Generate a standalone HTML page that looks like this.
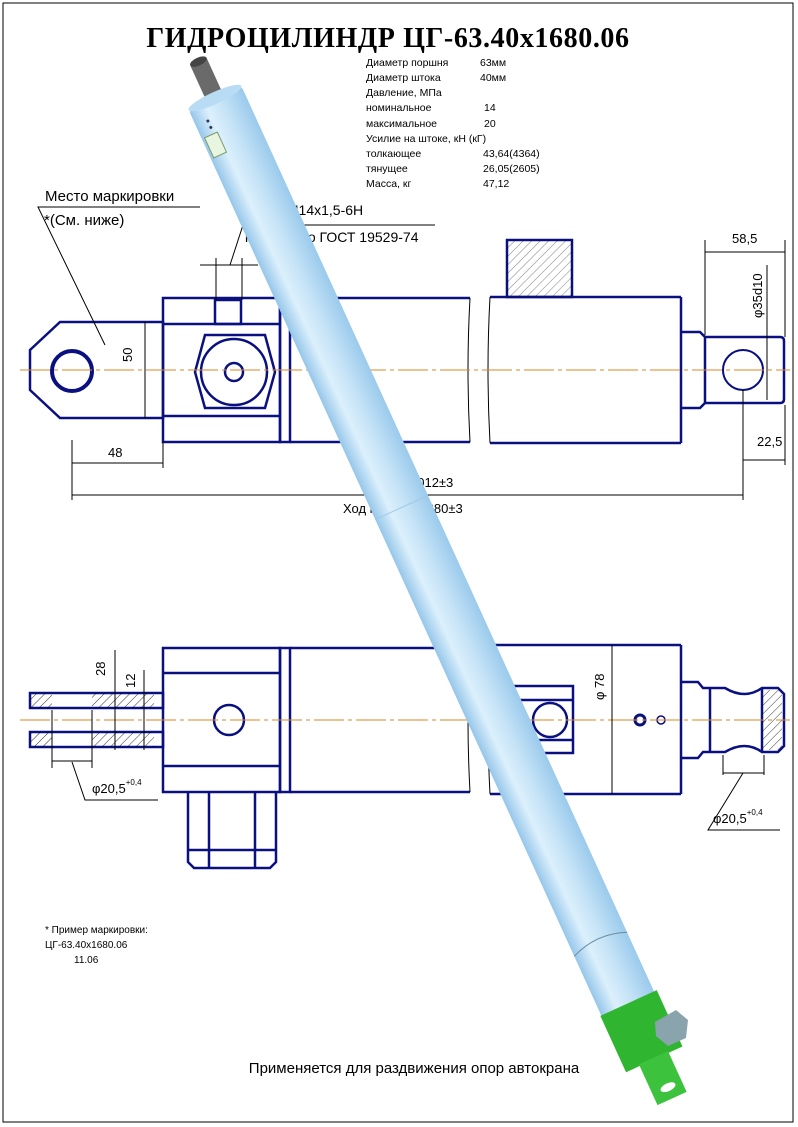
<!DOCTYPE html>
<html><head><meta charset="utf-8"><style>
html,body{margin:0;padding:0;background:#fff}
svg{display:block}
</style></head><body>
<svg width="798" height="1127" viewBox="0 0 798 1127" xmlns="http://www.w3.org/2000/svg" font-family="Liberation Sans, DejaVu Sans, sans-serif">
<defs>
<linearGradient id="tg" x1="0" x2="1" y1="0" y2="0">
<stop offset="0" stop-color="#96c6ea"/><stop offset="0.3" stop-color="#dcf0fc"/><stop offset="0.6" stop-color="#c4e2f6"/><stop offset="1" stop-color="#9acaec"/>
</linearGradient>
<pattern id="h" width="6" height="6" patternUnits="userSpaceOnUse" patternTransform="rotate(45)"><line x1="0" y1="0" x2="0" y2="6" stroke="#000" stroke-width="0.8"/></pattern>
</defs>
<rect x="0" y="0" width="798" height="1127" fill="#fff"/>
<rect x="3" y="3" width="790" height="1119" fill="none" stroke="#000" stroke-width="1"/>
<text x="388" y="47" text-anchor="middle" font-family="Liberation Serif, serif" font-weight="bold" font-size="28" letter-spacing="0.6">ГИДРОЦИЛИНДР ЦГ-63.40х1680.06</text>
<g font-size="10.5" fill="#000">
<text x="366" y="66">Диаметр поршня</text><text x="480" y="66">63мм</text>
<text x="366" y="81">Диаметр штока</text><text x="480" y="81">40мм</text>
<text x="366" y="96">Давление, МПа</text>
<text x="366" y="111">номинальное</text><text x="484" y="111">14</text>
<text x="366" y="127">максимальное</text><text x="484" y="127">20</text>
<text x="366" y="142">Усилие на штоке, кН  (кГ)</text>
<text x="366" y="157">толкающее</text><text x="483" y="157">43,64(4364)</text>
<text x="366" y="172">тянущее</text><text x="483" y="172">26,05(2605)</text>
<text x="366" y="187">Масса, кг</text><text x="483" y="187">47,12</text>
</g>
<!-- top view -->
<g stroke="#0a1080" stroke-width="2.5" fill="none">
<polygon points="60,322 163,322 163,418 60,418 30,390 30,350"/>
<circle cx="72" cy="371" r="20" stroke-width="4"/>
<rect x="163" y="298" width="117" height="144"/>
<line x1="163" y1="324" x2="280" y2="324"/><line x1="163" y1="416" x2="280" y2="416"/>
<polygon points="205,335 265,335 275,372 265,408 205,408 195,372"/>
<circle cx="234" cy="372" r="33"/>
<circle cx="234" cy="372" r="9"/>
<rect x="280" y="298" width="10" height="144"/>
<line x1="290" y1="298" x2="470" y2="298"/><line x1="290" y1="442" x2="470" y2="442"/>
<line x1="490" y1="297" x2="681" y2="297"/><line x1="490" y1="443" x2="681" y2="443"/>
<line x1="681" y1="297" x2="681" y2="443"/>
<path d="M681,332 H700 L705,337 V403 L700,408 H681"/>
<path d="M705,337 H780 Q784,337 784,341 V399 Q784,403 780,403 H705"/>
<circle cx="743" cy="370" r="20" stroke-width="2"/>
<rect x="507" y="240" width="65" height="57"/>
<rect x="215" y="300" width="26" height="24"/>
</g>
<rect x="507" y="240" width="65" height="57" fill="url(#h)" opacity="0.6"/>
<g stroke="#000" stroke-width="1" fill="none">
<path d="M470,298 Q466,370 470,442"/><path d="M490,297 Q486,370 490,443"/>
<path d="M20,370 H790" stroke="#d98a2a" stroke-dasharray="30,4,4,4"/>
<line x1="72" y1="440" x2="72" y2="500"/><line x1="163" y1="442" x2="163" y2="468"/>
<line x1="72" y1="463" x2="163" y2="463"/>
<line x1="743" y1="390" x2="743" y2="500"/><line x1="785" y1="405" x2="785" y2="465"/>
<line x1="72" y1="495" x2="743" y2="495"/>
<line x1="743" y1="460" x2="785" y2="460"/>
<line x1="705" y1="240" x2="705" y2="335"/><line x1="785" y1="240" x2="785" y2="337"/>
<line x1="705" y1="252" x2="785" y2="252"/>
<line x1="767" y1="265" x2="767" y2="400"/>
<line x1="145" y1="322" x2="145" y2="418"/>
<line x1="200" y1="265" x2="258" y2="265"/><line x1="216" y1="258" x2="216" y2="300"/><line x1="242" y1="258" x2="242" y2="300"/>
<polyline points="230,265 243,225 435,225"/>
<polyline points="200,207 38,207 105,345"/>
</g>
<g font-size="13" fill="#000">
<text x="45" y="201" font-size="15">Место маркировки</text>
<text x="44" y="225" font-size="15">*(См. ниже)</text>
<text x="250" y="215" font-size="14">2 отв.М14х1,5-6Н</text>
<text x="245" y="242" font-size="14">канавка по ГОСТ 19529-74</text>
<text x="108" y="457">48</text>
<text x="410" y="487">2012±3</text>
<text x="343" y="513">Ход поршня 1680±3</text>
<text x="757" y="446">22,5</text>
<text x="732" y="243">58,5</text>
<text transform="translate(132,362) rotate(-90)">50</text>
<text transform="translate(762,318) rotate(-90)">φ35d10</text>
</g>
<!-- side view -->
<g stroke="#0a1080" stroke-width="2.5" fill="none">
<rect x="30" y="693" width="133" height="15"/><rect x="30" y="732" width="133" height="15"/>
<rect x="163" y="648" width="117" height="144"/>
<line x1="163" y1="673" x2="280" y2="673"/><line x1="163" y1="766" x2="280" y2="766"/>
<circle cx="229" cy="720" r="15"/>
<rect x="280" y="648" width="10" height="144"/>
<line x1="290" y1="648" x2="470" y2="648"/><line x1="290" y1="792" x2="470" y2="792"/>
<line x1="490" y1="645" x2="681" y2="645"/><line x1="490" y1="794" x2="681" y2="794"/>
<line x1="681" y1="645" x2="681" y2="794"/>
<rect x="507" y="686" width="66" height="67"/>
<line x1="507" y1="700" x2="573" y2="700"/><line x1="507" y1="740" x2="573" y2="740"/>
<circle cx="550" cy="720" r="17"/>
<circle cx="640" cy="720" r="5" stroke-width="3"/><circle cx="661" cy="720" r="4" stroke-width="1.5"/>
<path d="M681,682 H698 L703,688 H725 Q745,700 762,688 H778 L784,694 V746 L778,752 H762 Q745,740 725,752 H703 L698,758 H681"/>
<line x1="710" y1="688" x2="710" y2="752"/><line x1="762" y1="688" x2="762" y2="752"/>
<path d="M188,792 V862 L194,868 H270 L276,862 V792"/>
<line x1="209" y1="792" x2="209" y2="868"/><line x1="255" y1="792" x2="255" y2="868"/>
<line x1="188" y1="850" x2="276" y2="850"/>
</g>
<rect x="30" y="693" width="22" height="15" fill="url(#h)"/><rect x="30" y="732" width="22" height="15" fill="url(#h)"/>
<rect x="92" y="693" width="62" height="15" fill="url(#h)"/><rect x="92" y="732" width="62" height="15" fill="url(#h)"/>
<rect x="762" y="690" width="20" height="60" fill="url(#h)"/>
<g stroke="#000" stroke-width="1" fill="none">
<path d="M470,648 Q466,720 470,792"/><path d="M490,645 Q486,720 490,794"/>
<path d="M20,720 H790" stroke="#d98a2a" stroke-dasharray="30,4,4,4"/>
<line x1="115" y1="650" x2="115" y2="750"/><line x1="144" y1="670" x2="144" y2="750"/>
<line x1="52" y1="710" x2="52" y2="768"/><line x1="92" y1="710" x2="92" y2="768"/>
<line x1="52" y1="761" x2="92" y2="761"/>
<polyline points="72,762 85,800 158,800"/>
<line x1="612" y1="645" x2="612" y2="794"/>
<line x1="723" y1="755" x2="723" y2="775"/><line x1="764" y1="755" x2="764" y2="775"/>
<line x1="723" y1="773" x2="764" y2="773"/>
<polyline points="743,773 708,830 780,830"/>
</g>
<g font-size="13" fill="#000">
<text transform="translate(105,676) rotate(-90)">28</text>
<text transform="translate(135,688) rotate(-90)">12</text>
<text transform="translate(604,700) rotate(-90)">φ 78</text>
<text x="92" y="793">φ20,5<tspan font-size="8" dy="-8">+0,4</tspan></text>
<text x="713" y="823">φ20,5<tspan font-size="8" dy="-8">+0,4</tspan></text>
</g>
<g font-size="10" fill="#000">
<text x="45" y="933">* Пример маркировки:</text>
<text x="45" y="948">ЦГ-63.40х1680.06</text>
<text x="74" y="963">11.06</text>
</g>
<text x="414" y="1073" text-anchor="middle" font-size="15">Применяется для раздвижения опор автокрана</text>
<!-- 3D cylinder -->
<g transform="translate(215,98) rotate(-24.5)">
<rect x="-9" y="-40" width="18" height="50" fill="#6a6a6a"/>
<ellipse cx="0" cy="-40" rx="9" ry="4" fill="#444"/>
<rect x="-29" y="0" width="58" height="1010" rx="4" fill="url(#tg)"/>
<ellipse cx="0" cy="0" rx="29" ry="6" fill="#b8dcf4"/>
<line x1="-29" y1="450" x2="29" y2="450" stroke="#9cc8e6" stroke-width="1"/>
<path d="M-29,930 Q0,918 29,930" stroke="#6a8aa0" stroke-width="1" fill="none"/>
<rect x="-30" y="995" width="62" height="62" fill="#2fb52f"/>
<rect x="-15" y="1055" width="32" height="45" fill="#3cc23c"/>
<ellipse cx="2" cy="1088" rx="8" ry="4" fill="#fff"/>
<rect x="-26" y="32" width="14" height="22" fill="#e8f5e0" stroke="#7a9a6a"/>
<circle cx="-16" cy="18" r="1.5" fill="#335"/><circle cx="-16" cy="25" r="1.5" fill="#335"/>
</g>
<polygon points="655,1022 676,1010 688,1020 686,1038 668,1046 656,1036" fill="#8aa4ad"/>
</svg>
</body></html>
